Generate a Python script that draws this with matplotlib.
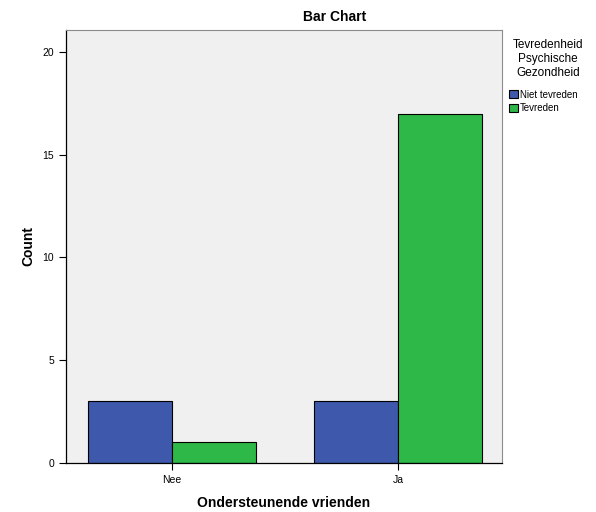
import matplotlib
matplotlib.use("Agg")
import matplotlib.pyplot as plt
import numpy as np

plt.rcParams['font.family'] = ['Liberation Sans', 'DejaVu Sans']

categories = ["Nee", "Ja"]
series_names = ["Niet tevreden", "Tevreden"]
niet_tevreden = [3, 3]
tevreden = [1, 17]
colors = ["#3E58AC", "#2EB848"]
yticks = [0, 5, 10, 15, 20]
legend_title = "Tevredenheid\nPsychische\nGezondheid"

fig = plt.figure(figsize=(5.96, 5.12), dpi=100)
ax = fig.add_axes([66/596, 1-463/512, (502-66)/596, (463-30)/512])
ax.set_facecolor("#F0F0F0")

x = np.arange(len(categories))
w = 0.372
ax.bar(x - w/2, niet_tevreden, width=w, color=colors[0], edgecolor="black", linewidth=0.8, label=series_names[0])
ax.bar(x + w/2, tevreden, width=w, color=colors[1], edgecolor="black", linewidth=0.8, label=series_names[1])

ax.set_xlim(-0.469, 1.46)
ax.set_ylim(0, 21.07)
ax.set_yticks(yticks)
ax.set_xticks(x)
ax.set_xticklabels(categories)
ax.tick_params(axis='both', labelsize=7.5, length=5, width=0.8, color="black")
for s in ["left", "bottom"]:
    ax.spines[s].set_color("black")
    ax.spines[s].set_linewidth(0.9)
for s in ["top", "right"]:
    ax.spines[s].set_color("#8C8C8C")
    ax.spines[s].set_linewidth(0.8)

ax.set_ylabel("Count", fontsize=10, fontweight="bold", labelpad=5)
ax.set_xlabel("Ondersteunende vrienden", fontsize=10, fontweight="bold", labelpad=8)
fig.text(335/596, 1-17/512, "Bar Chart", ha="center", va="center", fontsize=10, fontweight="bold")

fig.text(548/596, 1-59/512, legend_title, ha="center", va="center",
         multialignment="center", fontsize=8.5, linespacing=1.25)

leg = ax.legend(loc="upper left", bbox_to_anchor=(1.0, 1 - (83-30)/433), frameon=False,
                fontsize=7, handlelength=0.9, handleheight=0.9,
                handletextpad=0.2, borderaxespad=0.3, labelspacing=0.35)

fig.savefig("out.png", dpi=100)
